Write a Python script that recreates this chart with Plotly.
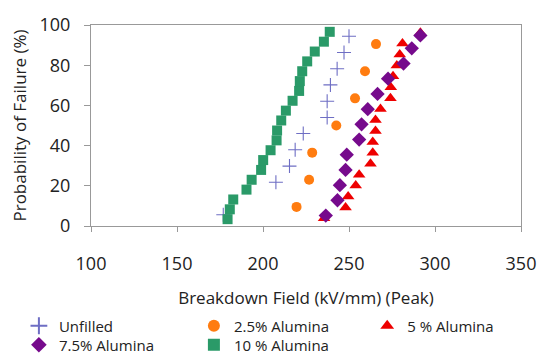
import plotly.graph_objects as go

# Breakdown field (kV/mm) and probability of failure (%)
unfilled_x = [176.9, 207.5, 215.4, 218.7, 223.4, 237.3, 237.3, 239.2, 243.1, 247.1, 250.0]
unfilled_y = [5.6, 21.8, 29.8, 37.9, 46.0, 54.0, 62.1, 70.2, 78.2, 86.3, 94.4]

al25_x = [219.5, 226.8, 228.6, 242.6, 253.5, 259.3, 265.7]
al25_y = [9.5, 23.0, 36.5, 50.0, 63.5, 77.0, 90.5]

al5_x = [235.5, 248.0, 249.5, 253.9, 255.9, 262.5, 263.8, 263.8, 265.4, 265.4,
         268.3, 274.1, 274.3, 275.6, 277.8, 279.5, 281.1, 291.5]
al5_y = [3.8, 9.2, 14.7, 20.1, 25.5, 31.0, 36.4, 41.8, 47.3, 52.7,
         58.2, 63.6, 69.0, 74.5, 79.9, 85.3, 90.8, 96.2]

al75_x = [236.5, 243.3, 244.7, 248.0, 248.7, 255.9, 257.3, 260.9, 266.6, 272.7, 281.7, 286.5, 291.5]
al75_y = [5.2, 12.8, 20.3, 27.9, 35.5, 43.0, 50.6, 58.1, 65.7, 73.3, 80.8, 88.4, 94.8]

al10_x = [179.4, 180.7, 182.7, 190.4, 193.4, 198.9, 200.1, 204.4, 207.9, 208.2,
          210.6, 213.3, 217.2, 221.0, 221.4, 222.8, 225.7, 230.1, 235.4, 238.8]
al10_y = [3.4, 8.3, 13.2, 18.1, 23.0, 27.9, 32.8, 37.7, 42.6, 47.5,
          52.5, 57.4, 62.3, 67.2, 72.1, 77.0, 81.9, 86.8, 91.7, 96.6]

x_ticks = [100, 150, 200, 250, 300, 350]
y_ticks = [0, 20, 40, 60, 80, 100]

FONT = "Open Sans"

fig = go.Figure()
fig.add_trace(go.Scatter(x=unfilled_x, y=unfilled_y, mode="markers", name="Unfilled",
                         marker=dict(symbol="cross-thin", size=10, line=dict(width=1.1, color="#6e6ec4")),
                         legend="legend"))
fig.add_trace(go.Scatter(x=al25_x, y=al25_y, mode="markers", name="2.5% Alumina",
                         marker=dict(symbol="circle", size=10, color="#ff7c10"), legend="legend"))
fig.add_trace(go.Scatter(x=al5_x, y=al5_y, mode="markers", name="5 % Alumina",
                         marker=dict(symbol="triangle-up", size=11, color="#ee0000"), legend="legend3"))
fig.add_trace(go.Scatter(x=al75_x, y=al75_y, mode="markers", name="7.5% Alumina",
                         marker=dict(symbol="diamond", size=11, color="#760a8c"), legend="legend2"))
fig.add_trace(go.Scatter(x=al10_x, y=al10_y, mode="markers", name="10 % Alumina",
                         marker=dict(symbol="square", size=10, color="#2a9a68"), legend="legend2"))

leg_common = dict(orientation="h", xref="container", yref="container", xanchor="left", yanchor="middle",
                  font=dict(family=FONT, size=15, color="#222222"), bgcolor="rgba(0,0,0,0)",
                  entrywidth=130, entrywidthmode="pixels", itemsizing="constant", borderwidth=0,
                  itemwidth=30)

fig.update_layout(
    width=540, height=356,
    margin=dict(l=91, r=19, t=25, b=130, autoexpand=False),
    plot_bgcolor="white", paper_bgcolor="white",
    font=dict(family=FONT, size=17, color="#222222"),
    showlegend=True,
    legend=dict(x=0.035, y=1 - 326 / 356, **leg_common),
    legend2=dict(x=0.035, y=1 - 345 / 356, **leg_common),
    legend3=dict(x=0.68, y=1 - 326 / 356, **leg_common),
    xaxis=dict(range=[100, 350], tickvals=x_ticks, ticks="outside", ticklen=5, tickcolor="#999999",
               showline=True, linecolor="#999999", mirror=True, showgrid=False, zeroline=False,
               tickfont=dict(family=FONT, size=18, color="#222222"), ticklabelstandoff=16,
               title=dict(text="Breakdown Field (kV/mm) (Peak)", font=dict(family=FONT, size=17), standoff=24)),
    yaxis=dict(range=[0, 100], tickvals=y_ticks, ticks="outside", ticklen=6, tickcolor="#999999",
               showline=True, linecolor="#999999", mirror=True, showgrid=False, zeroline=False,
               tickfont=dict(family=FONT, size=18, color="#222222"), ticklabelstandoff=10,
               title=dict(text="Probability of Failure (%)", font=dict(family=FONT, size=17), standoff=8)),
)
fig.update_traces(cliponaxis=False)

fig.write_html("out.html")
